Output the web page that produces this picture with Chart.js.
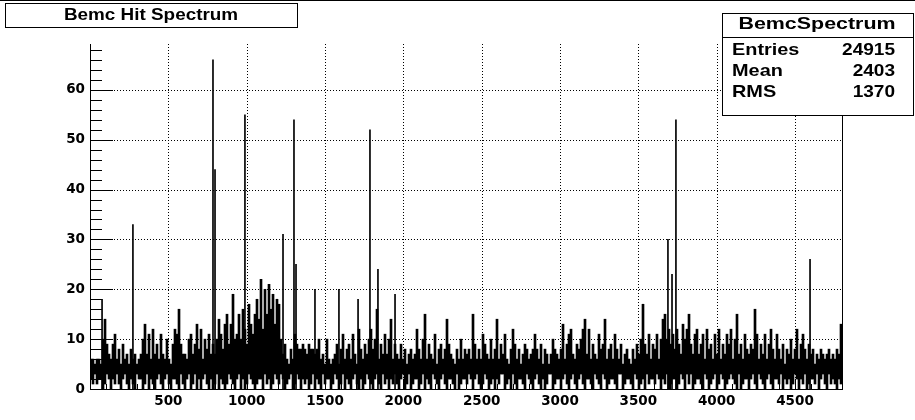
<!DOCTYPE html>
<html>
<head>
<meta charset="utf-8">
<title>Bemc Hit Spectrum</title>
<script src="https://cdn.jsdelivr.net/npm/chart.js@4.4.0/dist/chart.umd.min.js"></script>
<style>
  html, body { margin: 0; padding: 0; background: #fff; }
  #wrap { width: 915px; height: 420px; }
</style>
</head>
<body>
<div id="wrap"><canvas id="spectrumChart" width="915" height="420"></canvas></div>
<script>
// Histogram, one column per 2 screen pixels (~12.8 bins).
// hi = top of the black band in that column, lo = bottom of it.
const hiA = [6,6,5,6,6,5, 10,14,9,7, 6,9,11,6,8,5, 9,6,7,5,8,6, 7,5,6,7, 10,13,7,11,6, 12,7,9,6,11,7,6, 10,6,5,9,12, 11,16,9,7]; // bins 0-600
const loA = [2,1,3,1,2,2, 0,1,3,2, 0,2,1,3,1,0, 2,3,1,0,2,1, 0,3,2,2, 0,1,3,0,2, 1,0,2,3,1,0,2, 3,1,0,2,2, 1,0,3,1];
const hiB = [7,6,10,11,7,9,13, 8,12,6,10,8,11,7, 9,7,10,14,11,8,13, 15,9,13,19,10,11,15, 10,16,12,9,17,13,11, 15,18,14,22,12,20,15, 21,16,19,13,18]; // 600-1200
const loB = [0,2,3,0,1,3,0, 2,0,2,3,1,0,2, 0,1,3,0,2,1,0, 1,3,2,1,0,2,3, 0,2,0,1,3,2,1, 0,1,2,2,0,3,1, 2,0,1,3,2];
const hiC = [17,10,7,9,6,5,8, 6,11,9,8,8,9,8, 7,9,8,8,7,8,10, 6,7,5,10,6,5,6, 7,9,5,8,11,6,8, 9,6,11,7,5,12,8, 6,9,7,10,12]; // 1200-1800
const loC = [1,3,2,0,1,2,3, 0,1,3,2,0,2,1, 2,0,1,3,0,2,1, 0,3,1,2,2,0,1, 3,2,0,1,3,0,2, 1,0,2,3,1,0,2, 0,1,3,2,1];
const hiD = [8,10,16,6,9,7,11, 7,10,14,6,9,7,6, 9,6,8,5,7,8,6, 7,12,8,6,10,15,6, 9,7,6,11,5,8,9, 6,8,14,9,7,6,5, 8,6,10,6,8]; // 1800-2400
const loD = [0,2,3,1,0,3,1, 2,0,2,1,3,1,0, 2,3,0,1,3,0,1, 2,2,0,1,3,0,2, 1,0,3,2,1,0,2, 3,1,0,2,2,1,0, 3,0,1,2,2];
const hiE = [7,8,6,15,9,6,8, 6,11,9,7,6,10,6, 8,14,6,9,7,11,6, 5,8,12,9,6,8,5, 7,9,8,6,7,8,11, 8,6,9,5,8,7,5, 7,10,8,7,6]; // 2400-3000
const loE = [1,3,2,0,2,3,1, 0,1,3,2,0,1,2, 0,2,1,3,3,0,1, 2,0,3,1,0,2,2, 1,0,3,2,1,0,2, 3,1,0,2,0,1,3, 3,0,1,2,2];
const hiF = [8,13,6,9,11,12,7, 6,9,8,10,12,14,7, 12,6,9,7,6,11,8, 9,14,6,8,9,6,11, 8,6,9,5,7,8,6, 5,8,6,9,7,10,17, 9,7,11,6,9]; // 3000-3600
const loF = [0,2,3,1,0,2,3, 1,0,2,3,1,0,2, 2,1,0,3,2,1,0, 3,2,0,1,2,2,1, 0,3,3,0,1,2,2, 1,0,3,2,0,1,2, 0,3,1,2,2];
const hiG = [8,11,6,10,14,15,10, 12,9,11,8,12,9,7, 13,10,12,15,9,7,11, 12,7,9,11,6,12,8, 9,6,11,7,12,6,9, 7,11,9,12,6,10,15, 7,9,6,11,8]; // 3600-4200
const loG = [1,3,2,0,2,1,3, 0,1,2,2,0,1,3, 2,0,3,1,3,0,1, 2,2,1,0,3,2,0, 1,2,3,0,1,3,2, 0,1,2,3,2,1,0, 3,0,1,2,2];
const hiH = [7,9,8,16,11,6,9, 7,11,6,9,12,8,6, 11,8,6,9,5,8,7, 10,6,8,12,6,9,11, 8,6,9,7,8,5,7, 6,8,7,6,7,8,6, 7,6,8,7,13]; // 4200-4800
const loH = [0,2,3,1,0,3,2, 1,0,2,3,1,0,2, 2,1,3,0,2,1,2, 0,1,3,2,0,2,1, 3,0,1,2,2,1,3, 0,2,3,1,0,3,1, 2,1,0,2,1];

// single hot towers standing above the noise
const spikeBins   = [77, 274, 785, 798, 989, 1232, 1302, 1315, 1436, 1589, 1711, 1787, 1838, 1947, 3689, 3715, 3740, 4596];
const spikeValues = [18, 33,  66,  44,  55,  31,   54,   25,   20,   20,   18,   52,   24,   19,   30,   23,   54,   26];

const xTicks = [500, 1000, 1500, 2000, 2500, 3000, 3500, 4000, 4500];
const xTickLabels = ['500', '1000', '1500', '2000', '2500', '3000', '3500', '4000', '4500'];
const yTicks = [0, 10, 20, 30, 40, 50, 60];
const yTickLabels = ['0', '10', '20', '30', '40', '50', '60'];

const statsLabels = ['Entries', 'Mean', 'RMS'];
const statsValues = ['24915', '2403', '1370'];

const X_MAX = 4800;
const Y_MAX = 69.2;

const hiAll = [].concat(hiA, hiB, hiC, hiD, hiE, hiF, hiG, hiH);
const loAll = [].concat(loA, loB, loC, loD, loE, loF, loG, loH);
const colWidth = X_MAX / hiAll.length;

const spectrumData = hiAll.map((hi, i) => ({ x: (i + 0.5) * colWidth, y: [loAll[i], hi] }));
const spikeData = spikeBins.map((b, i) => ({ x: b, y: [0, spikeValues[i]] }));

const tickFont = { family: 'DejaVu Sans', weight: 'bold', size: 13.5 };

// Draw text stretched wider, ROOT's helvetica is broader than Liberation Sans
function wideText(ctx, text, x, y, size, sx, align) {
  ctx.save();
  ctx.font = 'bold ' + size + 'px "Liberation Sans", Arial, sans-serif';
  ctx.textAlign = align;
  ctx.textBaseline = 'alphabetic';
  ctx.translate(x, y);
  ctx.scale(sx, 1);
  ctx.fillText(text, 0, 0);
  ctx.restore();
}

function line(ctx, x1, y1, x2, y2) {
  ctx.beginPath();
  ctx.moveTo(x1, y1);
  ctx.lineTo(x2, y2);
  ctx.stroke();
}

const rootFrame = {
  id: 'rootFrame',
  beforeDatasetsDraw(chart) {
    const { ctx, chartArea: a, scales: { x, y } } = chart;
    ctx.save();
    ctx.strokeStyle = '#000';
    ctx.lineWidth = 1;
    ctx.setLineDash([1, 2]);
    xTicks.forEach(v => {
      const px = Math.round(x.getPixelForValue(v)) + 0.5;
      line(ctx, px, a.top, px, a.bottom);
    });
    yTicks.slice(1).forEach(v => {
      const py = Math.round(y.getPixelForValue(v)) + 0.5;
      line(ctx, a.left, py, a.right, py);
    });
    ctx.restore();
  },
  afterDatasetsDraw(chart) {
    const { ctx, chartArea: a, scales: { x, y } } = chart;
    ctx.save();
    ctx.strokeStyle = '#000';
    ctx.lineWidth = 1;
    // frame: left, bottom, right
    line(ctx, a.left + 0.5, a.top, a.left + 0.5, a.bottom + 1);
    line(ctx, a.left, a.bottom + 0.5, a.right + 1, a.bottom + 0.5);
    line(ctx, a.right + 0.5, a.top, a.right + 0.5, a.bottom + 1);
    // y ticks pointing inwards, minor every 2
    for (let v = 0; v <= 68; v += 2) {
      const py = Math.round(y.getPixelForValue(v)) + 0.5;
      const len = v % 10 === 0 ? 23 : 12;
      line(ctx, a.left, py, a.left + len, py);
    }
    // x ticks pointing up, minor every 100
    for (let v = 100; v < X_MAX; v += 100) {
      const px = Math.round(x.getPixelForValue(v)) + 0.5;
      const len = v % 500 === 0 ? 10 : 5;
      line(ctx, px, a.bottom, px, a.bottom - len);
    }
    ctx.restore();
  },
  afterDraw(chart) {
    const { ctx } = chart;
    ctx.save();
    ctx.fillStyle = '#000';
    ctx.fillRect(0, 0, 915, 1);

    // title box
    ctx.fillStyle = '#fff';
    ctx.fillRect(5, 3, 292, 24);
    ctx.strokeStyle = '#000';
    ctx.lineWidth = 1;
    ctx.strokeRect(5.5, 3.5, 292, 24);
    ctx.fillStyle = '#000';
    wideText(ctx, 'Bemc Hit Spectrum', 151, 20, 16, 1.18, 'center');

    // stats box
    ctx.fillStyle = '#fff';
    ctx.fillRect(722, 13, 191, 102);
    ctx.strokeRect(722.5, 13.5, 191, 102);
    line(ctx, 722, 37.5, 913, 37.5);
    ctx.fillStyle = '#000';
    wideText(ctx, 'BemcSpectrum', 817, 29, 17, 1.26, 'center');
    const rows = [55, 76, 97];
    statsLabels.forEach((lab, i) => {
      wideText(ctx, lab, 732, rows[i], 17, 1.17, 'left');
      wideText(ctx, statsValues[i], 895, rows[i], 17, 1.12, 'right');
    });
    ctx.restore();
  }
};

const ctx = document.getElementById('spectrumChart').getContext('2d');
const spectrumChart = new Chart(ctx, {
  type: 'bar',
  data: {
    datasets: [
      {
        label: 'BemcSpectrum',
        data: spectrumData,
        backgroundColor: '#000',
        borderWidth: 0,
        barThickness: 2,
        grouped: false
      },
      {
        label: 'towers',
        data: spikeData,
        backgroundColor: '#000',
        borderWidth: 0,
        barThickness: 1,
        grouped: false
      }
    ]
  },
  options: {
    responsive: false,
    animation: false,
    devicePixelRatio: 1,
    layout: { padding: { left: 0, right: 73, top: 44, bottom: 0 } },
    plugins: {
      legend: { display: false },
      title: { display: false },
      tooltip: { enabled: false }
    },
    scales: {
      x: {
        type: 'linear',
        min: 0,
        max: X_MAX,
        offset: false,
        grid: { display: false, drawTicks: false },
        border: { display: false },
        afterBuildTicks: scale => { scale.ticks = xTicks.map(v => ({ value: v })); },
        afterFit: scale => { scale.height = 31; },
        ticks: {
          color: '#000',
          font: tickFont,
          padding: 4,
          maxRotation: 0,
          autoSkip: false,
          callback: value => xTickLabels[xTicks.indexOf(value)]
        }
      },
      y: {
        min: 0,
        max: Y_MAX,
        grid: { display: false, drawTicks: false },
        border: { display: false },
        afterBuildTicks: scale => { scale.ticks = yTicks.map(v => ({ value: v })); },
        afterFit: scale => { scale.width = 90; },
        ticks: {
          color: '#000',
          font: tickFont,
          padding: 5,
          callback: value => yTickLabels[yTicks.indexOf(value)]
        }
      }
    }
  },
  plugins: [rootFrame]
});
</script>
</body>
</html>
